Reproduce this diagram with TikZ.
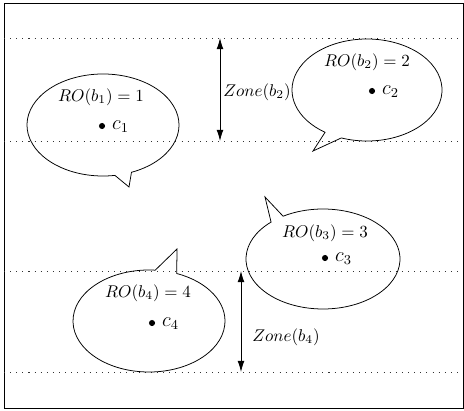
\documentclass[tikz,border=0pt]{standalone}
\usetikzlibrary{arrows.meta}
\begin{document}
\begin{tikzpicture}[x=0.588pt,y=0.588pt,
  bubble/.style={draw=black, line width=0.45pt, line join=miter},
  zoneline/.style={draw=black!80, dash pattern=on 0.6pt off 3pt, line width=0.5pt},
  zonearrow/.style={{Latex[length=6.5pt,width=4pt]}-{Latex[length=6.5pt,width=4pt]}, line width=0.5pt},
  lbl/.style={inner sep=0pt},
  clbl/.style={inner sep=0pt, anchor=west, font=\large},
  dotc/.style={circle, fill=black, inner sep=0pt, minimum size=3.6pt}]
\useasboundingbox (0,0) rectangle (464,410);
% frame
\draw[line width=0.55pt] (4,2) rectangle (463,407);
% zone lines
\coordinate (l1a) at (4,372); \coordinate (l1b) at (463,372);
\coordinate (l2a) at (4,269); \coordinate (l2b) at (463,269);
\coordinate (l3a) at (4,139); \coordinate (l3b) at (463,139);
\coordinate (l4a) at (4,38);  \coordinate (l4b) at (463,38);
\draw[zoneline] (l1a) -- (l1b);
\draw[zoneline] (l2a) -- (l2b);
\draw[zoneline] (l3a) -- (l3b);
\draw[zoneline] (l4a) -- (l4b);
% bubble 1
\coordinate (b1) at (103,285);
\draw[bubble] (b1) ++(-68:44.69pt and 29.99pt)
  arc[start angle=-68, end angle=279, x radius=44.69pt, y radius=29.99pt]
  -- (129,223) -- cycle;
% bubble 2
\coordinate (b2) at (367,320);
\draw[bubble] (b2) ++(-110:44.10pt and 29.99pt)
  arc[start angle=-110, end angle=236, x radius=44.10pt, y radius=29.99pt]
  -- (313,259) -- cycle;
% bubble 3
\coordinate (b3) at (323,151);
\draw[bubble] (b3) ++(132.4:45.28pt and 29.4pt)
  arc[start angle=132.4, end angle=481.2, x radius=45.28pt, y radius=29.4pt]
  -- (265,213) -- cycle;
% bubble 4
\coordinate (b4) at (149,89);
\draw[bubble] (b4) ++(85.3:44.69pt and 29.99pt)
  arc[start angle=85.3, end angle=428.6, x radius=44.69pt, y radius=29.99pt]
  -- (177,161) -- cycle;
% texts
\node (ro1) at (101,313) {$RO(b_1) = 1$};
\node (ro2) at (367,348) {$RO(b_2) = 2$};
\node (ro3) at (325,177) {$RO(b_3) = 3$};
\node (ro4) at (148,117) {$RO(b_4) = 4$};
\node[dotc] (c1) at (102,284) {};
\node[clbl] (c1l) at ([xshift=3.8pt,yshift=-0.6pt]c1.east) {$c_1$};
\node[dotc] (c2) at (372,319) {};
\node[clbl] (c2l) at ([xshift=3.8pt,yshift=-0.6pt]c2.east) {$c_2$};
\node[dotc] (c3) at (325,152) {};
\node[clbl] (c3l) at ([xshift=3.8pt,yshift=-0.6pt]c3.east) {$c_3$};
\node[dotc] (c4) at (152,87) {};
\node[clbl] (c4l) at ([xshift=3.8pt,yshift=-0.6pt]c4.east) {$c_4$};
% zone arrows
\coordinate (z2t) at (220,372); \coordinate (z2b) at (220,269);
\draw[zonearrow] (z2t) -- (z2b);
\node[lbl, anchor=west] (zone2) at (223,318) {$Zone(b_2)$};
\coordinate (z4t) at (241,139); \coordinate (z4b) at (241,38);
\draw[zonearrow] (z4t) -- (z4b);
\node[lbl, anchor=west] (zone4) at (252,73) {$Zone(b_4)$};
\end{tikzpicture}
\end{document}
